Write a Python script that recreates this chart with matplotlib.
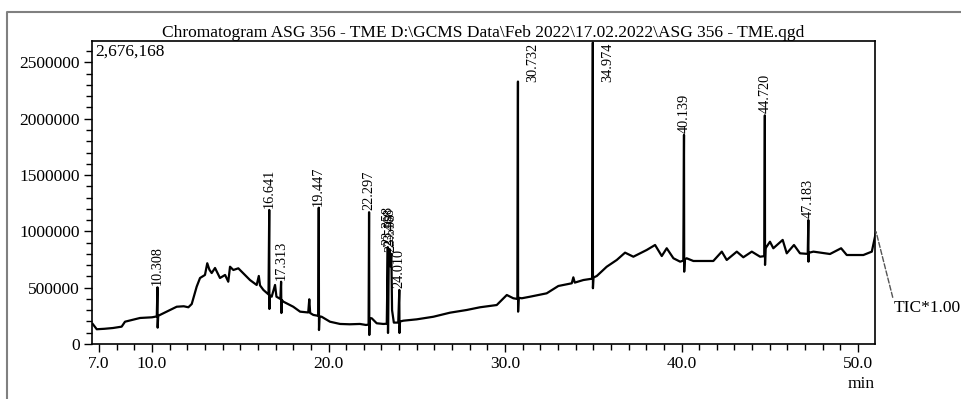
import matplotlib
matplotlib.use('Agg')
import matplotlib.pyplot as plt
from matplotlib.lines import Line2D
from matplotlib.ticker import FixedLocator, MultipleLocator

plt.rcParams['font.family'] = ['Liberation Serif', 'DejaVu Serif']

# Retention time (min) and total ion current
rt = [6.64, 6.87, 7.30, 7.79, 8.28, 8.47, 8.90, 9.32, 10.00, 10.27,
      10.308, 10.32, 10.35, 10.45, 10.83, 11.40, 11.80, 12.06, 12.25, 12.53,
      12.72, 13.00, 13.13, 13.25, 13.38, 13.57, 13.85, 14.14, 14.32, 14.42,
      14.61, 14.89, 15.17, 15.55, 15.93, 16.05, 16.12, 16.31, 16.60, 16.641,
      16.65, 16.68, 16.78, 16.97, 17.05, 17.27, 17.313, 17.33, 17.36, 17.44,
      18.00, 18.39, 18.85, 18.91, 18.96, 19.14, 19.42, 19.447, 19.46, 19.49,
      19.61, 20.08, 20.65, 21.20, 21.78, 22.12, 22.27, 22.297, 22.31, 22.33,
      22.45, 22.73, 23.10, 23.30, 23.358, 23.37, 23.41, 23.468, 23.50, 23.558,
      23.60, 23.70, 23.95, 24.010, 24.02, 24.05, 24.24, 25.00, 25.94, 26.88,
      27.83, 28.58, 29.53, 30.10, 30.47, 30.70, 30.732, 30.74, 30.77, 30.95,
      31.42, 32.36, 33.02, 33.78, 33.87, 33.95, 34.44, 34.94, 34.974, 34.98,
      35.01, 35.20, 35.76, 36.33, 36.80, 37.27, 38.03, 38.50, 38.88, 39.16,
      39.54, 39.92, 40.10, 40.139, 40.15, 40.18, 40.29, 40.67, 41.80, 42.28,
      42.56, 43.13, 43.50, 43.98, 44.45, 44.69, 44.720, 44.73, 44.76, 45.01,
      45.20, 45.73, 45.96, 46.37, 46.71, 47.15, 47.183, 47.19, 47.22, 47.47,
      48.41, 49.04, 49.36, 50.30, 50.78, 51.02]
tic = [178000, 131000, 135000, 142000, 154000, 198000, 215000, 231000, 237000, 245000,
       503000, 145000, 250000, 258000, 287000, 331000, 335000, 326000, 355000, 509000,
       586000, 613000, 717000, 660000, 630000, 675000, 586000, 613000, 553000, 686000,
       657000, 672000, 628000, 568000, 524000, 604000, 520000, 480000, 440000, 1190000,
       311000, 430000, 420000, 524000, 420000, 400000, 553000, 275000, 390000, 376000,
       331000, 287000, 280000, 397000, 275000, 258000, 250000, 1210000, 124000, 245000,
       242000, 198000, 178000, 175000, 178000, 169000, 172000, 1170000, 80000, 230000,
       228000, 184000, 178000, 180000, 860000, 98000, 720000, 840000, 690000, 800000,
       300000, 190000, 190000, 480000, 98000, 200000, 207000, 219000, 242000, 278000,
       302000, 326000, 346000, 435000, 406000, 400000, 2330000, 287000, 410000, 406000,
       420000, 450000, 515000, 539000, 592000, 545000, 568000, 580000, 2676168, 495000,
       590000, 604000, 686000, 746000, 811000, 775000, 835000, 879000, 781000, 850000,
       761000, 731000, 740000, 1856000, 642000, 750000, 761000, 737000, 737000, 820000,
       746000, 820000, 770000, 820000, 775000, 780000, 2030000, 702000, 850000, 908000,
       850000, 924000, 805000, 879000, 805000, 800000, 1100000, 731000, 810000, 820000,
       799000, 850000, 790000, 790000, 820000, 997000]

# Labelled peaks
peak_rt = [10.308, 16.641, 17.313, 19.447, 22.297, 23.358, 23.468, 23.558, 24.010,
           30.732, 34.974, 40.139, 44.720, 47.183]
peak_top = [503000, 1190000, 553000, 1210000, 1170000, 860000, 840000, 800000, 480000,
            2330000, 2676168, 1856000, 2030000, 1100000]
peak_labels = ['10.308', '16.641', '17.313', '19.447', '22.297', '23.358', '23.468',
               '23.558', '24.010', '30.732', '34.974', '40.139', '44.720', '47.183']

y_max = 2690000

fig = plt.figure(figsize=(9.62, 3.99), dpi=100)
ax = fig.add_axes([92 / 962, 55 / 399, 783 / 962, 303 / 399])

ax.plot(rt, tic, color='black', lw=1.6)
ax.set_xlim(6.6, 50.96)
ax.set_ylim(0, y_max)

# peak labels: above the apex, or beside it when the peak reaches the top
for t, top, lab in zip(peak_rt, peak_top, peak_labels):
    if top > 0.8 * y_max:
        ax.annotate(lab, (t, y_max), xytext=(11, -1), textcoords='offset points',
                    rotation=90, ha='center', va='top', fontsize=10.3)
    else:
        ax.annotate(lab, (t, top), xytext=(0, 1.5), textcoords='offset points',
                    rotation=90, ha='center', va='bottom', fontsize=10.3)

ax.text(0.004, 0.99, '2,676,168', transform=ax.transAxes, ha='left', va='top',
        fontsize=12.5)

ax.annotate('TIC*1.00', xy=(rt[-1], tic[-1]), xytext=(12.5, -55),
            textcoords='offset points', ha='left', va='center', fontsize=12.5,
            annotation_clip=False,
            arrowprops=dict(arrowstyle='-', linestyle='--', color='#555555',
                            lw=1, relpos=(0, 1), shrinkA=0, shrinkB=0))

ax.xaxis.set_major_locator(FixedLocator([7, 10, 20, 30, 40, 50]))
ax.xaxis.set_minor_locator(MultipleLocator(1))
ax.set_xticklabels(['7.0', '10.0', '20.0', '30.0', '40.0', '50.0'])
ax.yaxis.set_major_locator(MultipleLocator(500000))
ax.yaxis.set_minor_locator(MultipleLocator(100000))
ax.ticklabel_format(axis='y', style='plain', useOffset=False)
ax.tick_params(which='major', length=6, width=1, labelsize=12.5, pad=3)
ax.tick_params(which='minor', length=4, width=1)
for s in ax.spines.values():
    s.set_linewidth(1.2)

ax.set_title('Chromatogram ASG 356 - TME D:\\GCMS Data\\Feb 2022\\17.02.2022\\ASG 356 - TME.qgd',
             fontsize=12.5, pad=2)
fig.text(875 / 962, 1 - 384 / 399, 'min', ha='right', va='center', fontsize=12.5)

# grey outer frame of the screenshot
fig.add_artist(Line2D([7 / 962, 7 / 962, 1.0], [0.0, 1 - 12 / 399, 1 - 12 / 399],
                      transform=fig.transFigure, color='#808080', lw=1.5))

fig.savefig('out.png', dpi=100)
